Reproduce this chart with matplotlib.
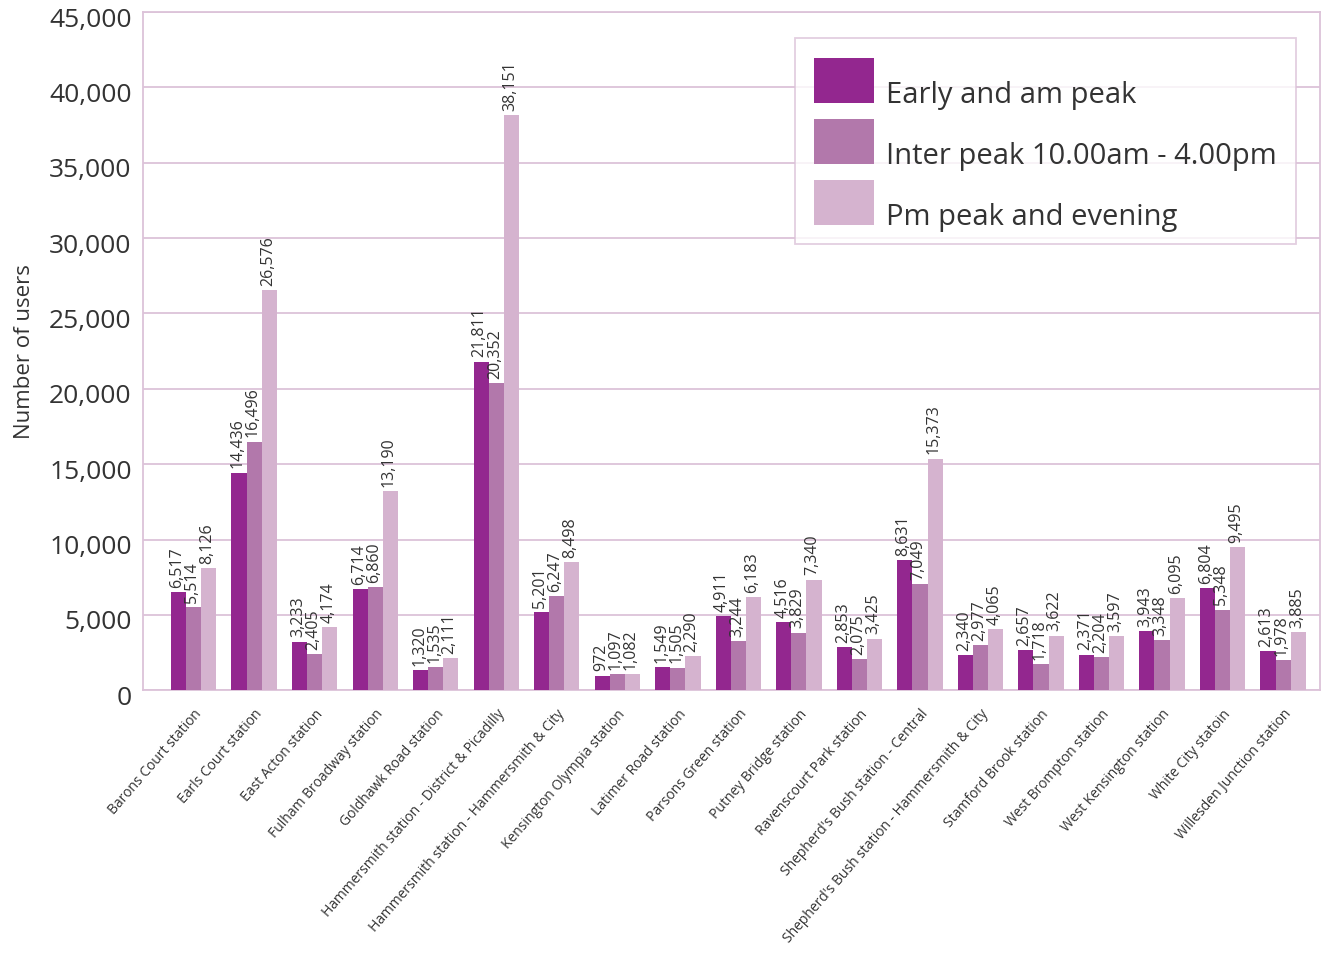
import numpy as np
import matplotlib.pyplot as plt
from matplotlib.transforms import ScaledTranslation
from matplotlib.ticker import FuncFormatter

stations = ["Barons Court station", "Earls Court station", "East Acton station",
            "Fulham Broadway station", "Goldhawk Road station",
            "Hammersmith station - District & Picadilly",
            "Hammersmith station - Hammersmith & City",
            "Kensington Olympia station", "Latimer Road station",
            "Parsons Green station", "Putney Bridge station",
            "Ravenscourt Park station", "Shepherd's Bush station - Central",
            "Shepherd's Bush station - Hammersmith & City",
            "Stamford Brook station", "West Brompton station",
            "West Kensington station", "White City statoin",
            "Willesden Junction station"]
early = [6517, 14436, 3233, 6714, 1320, 21811, 5201, 972, 1549, 4911,
         4516, 2853, 8631, 2340, 2657, 2371, 3943, 6804, 2613]
inter = [5514, 16496, 2405, 6860, 1535, 20352, 6247, 1097, 1505, 3244,
         3829, 2075, 7049, 2977, 1718, 2204, 3348, 5348, 1978]
pm = [8126, 26576, 4174, 13190, 2111, 38151, 8498, 1082, 2290, 6183,
      7340, 3425, 15373, 4065, 3622, 3597, 6095, 9495, 3885]
series_names = ["Early and am peak", "Inter peak 10.00am - 4.00pm", "Pm peak and evening"]

colors = ["#93278f", "#b278ab", "#d5b3cf"]
line_col = "#dcc3d9"
txt = "#333333"

plt.rcParams['font.family'] = ['Open Sans', 'DejaVu Sans']

fig = plt.figure(figsize=(13.22, 9.6), dpi=100)
ax = fig.add_axes([0.108, 0.281, 0.8905, 0.7065])

x = np.arange(len(stations))
w = 0.25
for k, vals in enumerate([early, inter, pm]):
    xs = x + (k - 1) * w
    ax.bar(xs, vals, w, color=colors[k], label=series_names[k], zorder=3)
    for xi, v in zip(xs, vals):
        ax.annotate(f"{v:,}", (xi, v), xytext=(-1, 3), textcoords="offset points",
                    rotation=90, ha="center", va="bottom", fontsize=11.5, color=txt)

ax.set_xlim(-0.84, len(stations) - 1 + 0.61)
ax.set_ylim(0, 45000)
ax.set_yticks(np.arange(0, 45001, 5000))
ax.yaxis.set_major_formatter(FuncFormatter(lambda v, p: f"{int(v):,}"))
ax.grid(axis="y", color=line_col, linewidth=1.3, zorder=0)
for s in ax.spines.values():
    s.set_color(line_col)
    s.set_linewidth(1.3)
ax.tick_params(axis="y", length=0, labelsize=19, labelcolor=txt, pad=8)
ax.tick_params(axis="x", length=0, pad=12)
ax.set_xticks(x)
ax.set_xticklabels(stations, rotation=49, ha="right", rotation_mode="anchor",
                   fontsize=10, color=txt)
ax.set_ylabel("Number of users", fontsize=16, color=txt, labelpad=10)

# y labels sit a little below their gridlines in the original
down = ScaledTranslation(0, -5 / 100, fig.dpi_scale_trans)
for lab in ax.get_yticklabels():
    lab.set_transform(lab.get_transform() + down)

fs = 21
hh = (32.4 - 0.35 * fs * 0.7) / (fs - 0.35 * fs)
leg = ax.legend(loc="upper right", bbox_to_anchor=(0.98, 0.9617), fontsize=fs,
                frameon=True, fancybox=False, handlelength=2.06, handleheight=hh,
                labelspacing=0.55, borderpad=0.67, handletextpad=0.41,
                borderaxespad=0)
leg.get_frame().set_edgecolor(line_col)
leg.get_frame().set_linewidth(1.3)
# drop the text so its baseline lines up with the swatch bottom
drop = 0.35 * fs * (hh - 0.7) / 72
for t in leg.get_texts():
    t.set_color(txt)
    t.set_transform(t.get_transform() + ScaledTranslation(0, -drop, fig.dpi_scale_trans))

fig.savefig("out.png", dpi=100)
